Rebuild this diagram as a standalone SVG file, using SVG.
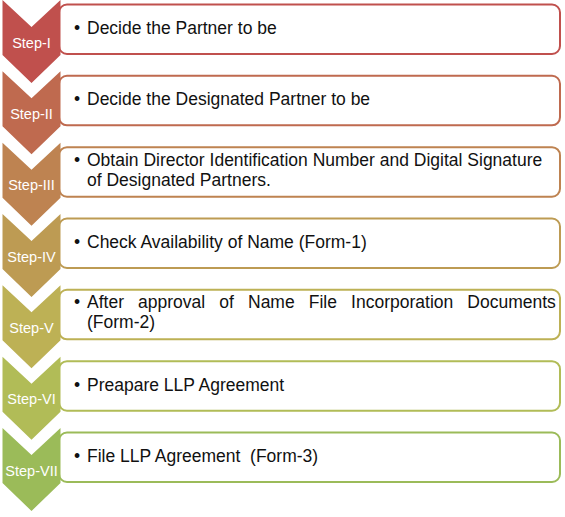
<svg xmlns="http://www.w3.org/2000/svg" width="565" height="517" viewBox="0 0 565 517">
  <style>
    .box { fill: #ffffff; stroke-width: 2; }
    .lbl { font-family: "Liberation Sans", Arial, sans-serif; font-size: 14.5px; fill: #ffffff; text-anchor: middle; }
    .txt { font-family: "Liberation Sans", Arial, sans-serif; font-size: 17.5px; fill: #111111; white-space: pre; }
    .chev { stroke: none; }
    .c1 { fill: hsl(1.6, 47.7%, 52.7%); }
    .c2 { fill: hsl(14.6, 46.7%, 52.9%); }
    .c3 { fill: hsl(27.6, 45.7%, 53.2%); }
    .c4 { fill: hsl(40.6, 44.8%, 53.4%); }
    .c5 { fill: hsl(53.6, 43.8%, 53.6%); }
    .c6 { fill: hsl(66.5, 42.8%, 53.9%); }
    .c7 { fill: hsl(79.5, 41.8%, 54.1%); }
    .r1 { stroke: hsl(1.6, 47.7%, 52.7%); }
    .r2 { stroke: hsl(14.6, 46.7%, 52.9%); }
    .r3 { stroke: hsl(27.6, 45.7%, 53.2%); }
    .r4 { stroke: hsl(40.6, 44.8%, 53.4%); }
    .r5 { stroke: hsl(53.6, 43.8%, 53.6%); }
    .r6 { stroke: hsl(66.5, 42.8%, 53.9%); }
    .r7 { stroke: hsl(79.5, 41.8%, 54.1%); }
  </style>
  <rect x="0" y="0" width="565" height="517" fill="#ffffff"/>

  <g id="step-1">
    <rect class="box r1" x="59" y="4.5" width="501" height="49.5" rx="8"/>
    <path class="chev c1" d="M2.5,0 L31.5,27 L60.5,0 L60.5,55 L31.5,83 L2.5,55 Z"/>
    <text class="lbl" x="31.5" y="47.5">Step-I</text>
    <text class="txt" x="74" y="34">•</text>
    <text class="txt" x="87" y="34">Decide the Partner to be</text>
  </g>

  <g id="step-2">
    <rect class="box r2" x="59" y="75.8" width="501" height="49.5" rx="8"/>
    <path class="chev c2" d="M2.5,71.3 L31.5,98.3 L60.5,71.3 L60.5,126.3 L31.5,154.3 L2.5,126.3 Z"/>
    <text class="lbl" x="31.5" y="118.8">Step-II</text>
    <text class="txt" x="74" y="105.3">•</text>
    <text class="txt" x="87" y="105.3">Decide the Designated Partner to be</text>
  </g>

  <g id="step-3">
    <rect class="box r3" x="59" y="147.2" width="501" height="49.5" rx="8"/>
    <path class="chev c3" d="M2.5,142.7 L31.5,169.7 L60.5,142.7 L60.5,197.7 L31.5,225.7 L2.5,197.7 Z"/>
    <text class="lbl" x="31.5" y="190.2">Step-III</text>
    <text class="txt" x="74" y="166">•</text>
    <text class="txt" x="87" y="166">Obtain Director Identification Number and Digital Signature</text>
    <text class="txt" x="87" y="186">of Designated Partners.</text>
  </g>

  <g id="step-4">
    <rect class="box r4" x="59" y="218.5" width="501" height="49.5" rx="8"/>
    <path class="chev c4" d="M2.5,214 L31.5,241 L60.5,214 L60.5,269 L31.5,297 L2.5,269 Z"/>
    <text class="lbl" x="31.5" y="261.5">Step-IV</text>
    <text class="txt" x="74" y="248">•</text>
    <text class="txt" x="87" y="248">Check Availability of Name (Form-1)</text>
  </g>

  <g id="step-5">
    <rect class="box r5" x="59" y="289.8" width="501" height="49.5" rx="8"/>
    <path class="chev c5" d="M2.5,285.3 L31.5,312.3 L60.5,285.3 L60.5,340.3 L31.5,368.3 L2.5,340.3 Z"/>
    <text class="lbl" x="31.5" y="332.8">Step-V</text>
    <text class="txt" x="74" y="307.5">•</text>
    <text class="txt" y="307.5"><tspan x="87">After</tspan><tspan x="138.1">approval</tspan><tspan x="219.3">of</tspan><tspan x="248">Name</tspan><tspan x="308.8">File</tspan><tspan x="351.1">Incorporation</tspan><tspan x="467.3">Documents</tspan></text>
    <text class="txt" x="87" y="327.5">(Form-2)</text>
  </g>

  <g id="step-6">
    <rect class="box r6" x="59" y="361.2" width="501" height="49.5" rx="8"/>
    <path class="chev c6" d="M2.5,356.7 L31.5,383.7 L60.5,356.7 L60.5,411.7 L31.5,439.7 L2.5,411.7 Z"/>
    <text class="lbl" x="31.5" y="404.2">Step-VI</text>
    <text class="txt" x="74" y="390.7">•</text>
    <text class="txt" x="87" y="390.7">Preapare LLP Agreement</text>
  </g>

  <g id="step-7">
    <rect class="box r7" x="59" y="432.5" width="501" height="49.5" rx="8"/>
    <path class="chev c7" d="M2.5,428 L31.5,455 L60.5,428 L60.5,483 L31.5,511 L2.5,483 Z"/>
    <text class="lbl" x="31.5" y="475.5">Step-VII</text>
    <text class="txt" x="74" y="462">•</text>
    <text class="txt" x="87" y="462" xml:space="preserve">File LLP Agreement  (Form-3)</text>
  </g>
</svg>
